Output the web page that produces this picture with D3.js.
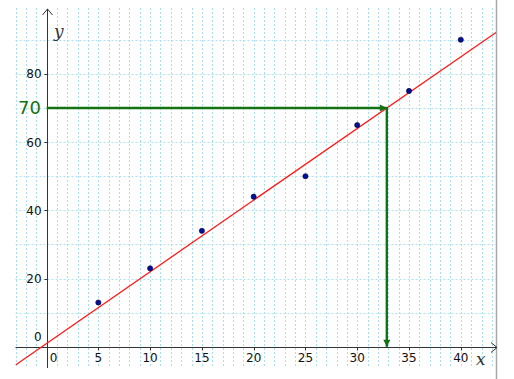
<!DOCTYPE html>
<html>
<head>
<meta charset="utf-8">
<script src="https://cdn.jsdelivr.net/npm/d3@7"></script>
<style>
  body { margin: 0; background: #fff; }
  text { font-family: "DejaVu Sans", sans-serif; }
</style>
</head>
<body>
<div id="chart"></div>
<script>
// data
const pointX = [5, 10, 15, 20, 25, 30, 35, 40];
const pointY = [13, 23, 34, 44, 50, 65, 75, 90];
const fitSlope = 2.1;
const fitIntercept = 1;
const readY = 70;
const xTicks = [0, 5, 10, 15, 20, 25, 30, 35, 40];
const yTicks = [0, 20, 40, 60, 80];
const xGrid = d3.range(-3, 44, 1);
const yGrid = d3.range(10, 100, 10);

const W = 514, H = 379;
const padL = 15.5, padR = 496, padT = 8, padB = 368;

const x = d3.scaleLinear().domain([-3, 43.4]).range([padL, padR]);
const y = d3.scaleLinear().domain([-6.2, 99.3]).range([padB, padT]);

const svg = d3.select("#chart").append("svg")
  .attr("width", W).attr("height", H);

const defs = svg.append("defs");
defs.append("clipPath").attr("id", "plotClip")
  .append("rect").attr("x", padL).attr("y", padT)
  .attr("width", padR - padL).attr("height", padB - padT);
defs.append("marker").attr("id", "greenHead")
  .attr("viewBox", "0 0 10 10").attr("refX", 10).attr("refY", 5)
  .attr("markerWidth", 10).attr("markerHeight", 7).attr("markerUnits", "userSpaceOnUse")
  .attr("orient", "auto")
  .append("path").attr("d", "M0,0 L10,5 L0,10 Z").attr("fill", "#137313");

// grid
const grid = svg.append("g").attr("stroke", "#ade0ee").attr("stroke-width", 1)
  .attr("stroke-dasharray", "2,2");
grid.selectAll("line.v").data(xGrid).enter().append("line")
  .attr("class", "v")
  .attr("x1", d => Math.round(x(d)) + 0.5).attr("x2", d => Math.round(x(d)) + 0.5)
  .attr("y1", padT).attr("y2", padB);
grid.selectAll("line.h").data(yGrid).enter().append("line")
  .attr("class", "h")
  .attr("y1", d => Math.round(y(d)) + 0.5).attr("y2", d => Math.round(y(d)) + 0.5)
  .attr("x1", padL).attr("x2", padR);

// right border
svg.append("line").attr("x1", 496.5).attr("x2", 496.5).attr("y1", 0).attr("y2", H)
  .attr("stroke", "#a8a8a8").attr("stroke-width", 1.5);

// axes
const ax = svg.append("g").attr("stroke", "#333").attr("stroke-width", 1).attr("fill", "none");
const x0 = Math.round(x(0)) + 0.5, y0 = Math.round(y(0)) + 0.5;
ax.append("line").attr("x1", padL).attr("x2", 497).attr("y1", y0).attr("y2", y0);
ax.append("path").attr("d", `M491,${y0 - 5} L497,${y0} L491,${y0 + 5}`);
ax.append("line").attr("x1", x0).attr("x2", x0).attr("y1", padB).attr("y2", 9);
ax.append("path").attr("d", `M${x0 - 5},15 L${x0},9 L${x0 + 5},15`);

ax.selectAll("line.tx").data(xTicks.slice(1)).enter().append("line")
  .attr("x1", d => Math.round(x(d)) + 0.5).attr("x2", d => Math.round(x(d)) + 0.5)
  .attr("y1", y0).attr("y2", y0 + 3);
ax.selectAll("line.ty").data(yTicks.slice(1)).enter().append("line")
  .attr("y1", d => Math.round(y(d)) + 0.5).attr("y2", d => Math.round(y(d)) + 0.5)
  .attr("x1", x0 - 3).attr("x2", x0);

// tick labels
svg.selectAll("text.tx").data(xTicks).enter().append("text")
  .attr("x", d => d === 0 ? x(d) + 7 : x(d))
  .attr("y", y(0) + 15)
  .attr("text-anchor", "middle").attr("font-size", 12).attr("fill", "#111")
  .text(d => d);
svg.selectAll("text.ty").data(yTicks).enter().append("text")
  .attr("x", x(0) - 5)
  .attr("y", d => d === 0 ? y(d) - 6 : y(d) + 4.5)
  .attr("text-anchor", "end").attr("font-size", 12).attr("fill", "#111")
  .text(d => d);

svg.append("text").attr("x", 476).attr("y", 365)
  .style("font-family", "'DejaVu Serif', serif").style("font-style", "italic")
  .attr("font-size", 17).attr("fill", "#333").text("x");
svg.append("text").attr("x", 54).attr("y", 37)
  .style("font-family", "'DejaVu Serif', serif").style("font-style", "italic")
  .attr("font-size", 17).attr("fill", "#333").text("y");

// fitted line
const plot = svg.append("g").attr("clip-path", "url(#plotClip)");
const fitX = [-3, 43.4];
plot.append("line")
  .attr("x1", x(fitX[0])).attr("y1", y(fitIntercept + fitSlope * fitX[0]))
  .attr("x2", x(fitX[1])).attr("y2", y(fitIntercept + fitSlope * fitX[1]))
  .attr("stroke", "#ff1a1a").attr("stroke-width", 1.3);

// reading arrows, from the y axis to the fitted line, then down to the x axis
const readX = (readY - fitIntercept) / fitSlope;
const green = svg.append("g").attr("stroke", "#137313").attr("stroke-width", 2.4)
  .attr("fill", "none");
green.append("line")
  .attr("x1", x(0)).attr("y1", y(readY))
  .attr("x2", x(readX)).attr("y2", y(readY))
  .attr("marker-end", "url(#greenHead)");
green.append("line")
  .attr("x1", x(readX)).attr("y1", y(readY) - 1)
  .attr("x2", x(readX)).attr("y2", y(0))
  .attr("marker-end", "url(#greenHead)");
svg.append("text").attr("x", 41).attr("y", y(readY) + 6.5)
  .attr("text-anchor", "end").attr("font-size", 18).attr("fill", "#137313")
  .text(readY);

// data points
svg.append("g").selectAll("circle").data(pointX).enter().append("circle")
  .attr("cx", d => x(d)).attr("cy", (d, i) => y(pointY[i]))
  .attr("r", 2.6).attr("fill", "#00109a").attr("stroke", "#000030").attr("stroke-width", 0.6);
</script>
</body>
</html>
